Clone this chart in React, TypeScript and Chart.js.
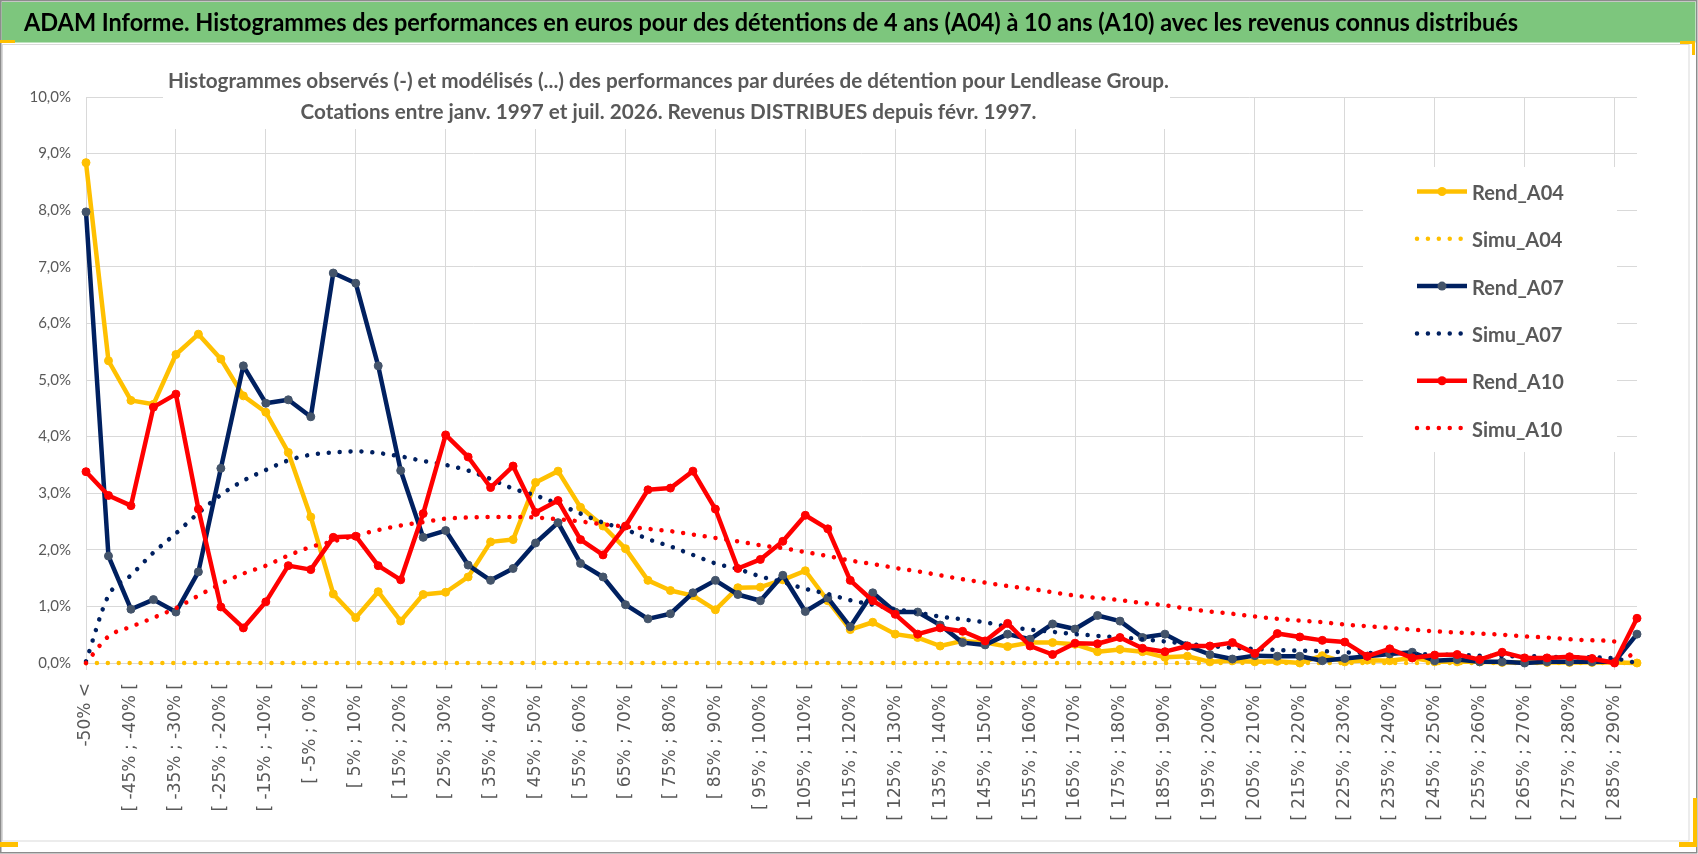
import React, { useEffect, useRef } from "react";
import { Chart, registerables } from "chart.js";

Chart.register(...registerables);

const W = 1698;
const H = 854;

const categories = [
  "-50% <",
  "[ -50% ; -45% [", "[ -45% ; -40% [", "[ -40% ; -35% [", "[ -35% ; -30% [", "[ -30% ; -25% [",
  "[ -25% ; -20% [", "[ -20% ; -15% [", "[ -15% ; -10% [", "[ -10% ; -5% [", "[ -5% ; 0% [",
  "[ 0% ; 5% [", "[ 5% ; 10% [", "[ 10% ; 15% [", "[ 15% ; 20% [", "[ 20% ; 25% [",
  "[ 25% ; 30% [", "[ 30% ; 35% [", "[ 35% ; 40% [", "[ 40% ; 45% [", "[ 45% ; 50% [",
  "[ 50% ; 55% [", "[ 55% ; 60% [", "[ 60% ; 65% [", "[ 65% ; 70% [", "[ 70% ; 75% [",
  "[ 75% ; 80% [", "[ 80% ; 85% [", "[ 85% ; 90% [", "[ 90% ; 95% [", "[ 95% ; 100% [",
  "[ 100% ; 105% [", "[ 105% ; 110% [", "[ 110% ; 115% [", "[ 115% ; 120% [", "[ 120% ; 125% [",
  "[ 125% ; 130% [", "[ 130% ; 135% [", "[ 135% ; 140% [", "[ 140% ; 145% [", "[ 145% ; 150% [",
  "[ 150% ; 155% [", "[ 155% ; 160% [", "[ 160% ; 165% [", "[ 165% ; 170% [", "[ 170% ; 175% [",
  "[ 175% ; 180% [", "[ 180% ; 185% [", "[ 185% ; 190% [", "[ 190% ; 195% [", "[ 195% ; 200% [",
  "[ 200% ; 205% [", "[ 205% ; 210% [", "[ 210% ; 215% [", "[ 215% ; 220% [", "[ 220% ; 225% [",
  "[ 225% ; 230% [", "[ 230% ; 235% [", "[ 235% ; 240% [", "[ 240% ; 245% [", "[ 245% ; 250% [",
  "[ 250% ; 255% [", "[ 255% ; 260% [", "[ 260% ; 265% [", "[ 265% ; 270% [", "[ 270% ; 275% [",
  "[ 275% ; 280% [", "[ 280% ; 285% [", "[ 285% ; 290% [", "[ 290% ; 295% [",
];

// values in %
const rendA04 = [
  8.84, 5.34, 4.64, 4.57, 5.45, 5.81, 5.37, 4.72, 4.43, 3.72,
  2.58, 1.22, 0.80, 1.26, 0.74, 1.21, 1.25, 1.52, 2.14, 2.18,
  3.19, 3.39, 2.75, 2.42, 2.02, 1.46, 1.28, 1.19, 0.94, 1.33,
  1.34, 1.47, 1.63, 1.10, 0.59, 0.72, 0.51, 0.45, 0.30, 0.39,
  0.36, 0.29, 0.36, 0.36, 0.33, 0.20, 0.24, 0.20, 0.10, 0.12,
  0.02, 0.04, 0.02, 0.03, 0.00, 0.13, 0.02, 0.05, 0.04, 0.09,
  0.02, 0.02, 0.02, 0.01, 0.01, 0.01, 0.01, 0.01, 0.01, 0.00,
];

const simuA04 = [
  0, 0, 0, 0, 0, 0, 0, 0, 0, 0,
  0, 0, 0, 0, 0, 0, 0, 0, 0, 0,
  0, 0, 0, 0, 0, 0, 0, 0, 0, 0,
  0, 0, 0, 0, 0, 0, 0, 0, 0, 0,
  0, 0, 0, 0, 0, 0, 0, 0, 0, 0,
  0, 0, 0, 0, 0, 0, 0, 0, 0, 0,
  0, 0, 0, 0, 0, 0, 0, 0, 0, 0,
];

const rendA07 = [
  7.97, 1.89, 0.95, 1.12, 0.90, 1.61, 3.44, 5.25, 4.59, 4.65,
  4.35, 6.89, 6.71, 5.25, 3.40, 2.22, 2.34, 1.73, 1.46, 1.67,
  2.12, 2.48, 1.76, 1.52, 1.03, 0.78, 0.87, 1.24, 1.46, 1.21,
  1.10, 1.55, 0.91, 1.15, 0.64, 1.24, 0.90, 0.90, 0.67, 0.36,
  0.32, 0.51, 0.42, 0.69, 0.60, 0.84, 0.74, 0.45, 0.51, 0.30,
  0.15, 0.07, 0.13, 0.12, 0.12, 0.04, 0.08, 0.12, 0.16, 0.19,
  0.04, 0.06, 0.02, 0.02, 0.00, 0.02, 0.02, 0.02, 0.02, 0.51,
];

const simuA07 = [
  0.03, 1.19, 1.55, 1.95, 2.29, 2.65, 2.97, 3.22, 3.41, 3.58,
  3.68, 3.72, 3.74, 3.71, 3.65, 3.57, 3.50, 3.40, 3.25, 3.08,
  2.96, 2.81, 2.64, 2.48, 2.36, 2.19, 2.06, 1.91, 1.76, 1.66,
  1.53, 1.43, 1.31, 1.22, 1.11, 1.03, 0.95, 0.89, 0.82, 0.77,
  0.72, 0.64, 0.59, 0.55, 0.51, 0.48, 0.45, 0.42, 0.38, 0.34,
  0.30, 0.27, 0.25, 0.23, 0.22, 0.21, 0.19, 0.18, 0.17, 0.16,
  0.15, 0.14, 0.13, 0.12, 0.12, 0.11, 0.10, 0.10, 0.08, 0.00,
];

const rendA10 = [
  3.38, 2.96, 2.78, 4.52, 4.75, 2.72, 0.99, 0.62, 1.08, 1.72,
  1.65, 2.22, 2.24, 1.72, 1.47, 2.64, 4.03, 3.64, 3.10, 3.48,
  2.66, 2.87, 2.18, 1.91, 2.42, 3.06, 3.09, 3.39, 2.72, 1.67,
  1.83, 2.15, 2.61, 2.37, 1.46, 1.10, 0.86, 0.51, 0.62, 0.56,
  0.39, 0.70, 0.30, 0.15, 0.35, 0.34, 0.45, 0.26, 0.20, 0.30,
  0.30, 0.36, 0.17, 0.52, 0.46, 0.40, 0.37, 0.12, 0.25, 0.09,
  0.14, 0.15, 0.06, 0.19, 0.09, 0.09, 0.11, 0.08, 0.00, 0.79,
];

const simuA10 = [
  0.00, 0.47, 0.64, 0.80, 0.97, 1.19, 1.40, 1.58, 1.72, 1.90,
  2.05, 2.15, 2.25, 2.35, 2.43, 2.49, 2.55, 2.57, 2.58, 2.58,
  2.57, 2.54, 2.50, 2.45, 2.41, 2.37, 2.33, 2.27, 2.21, 2.15,
  2.08, 2.03, 1.96, 1.89, 1.81, 1.75, 1.68, 1.62, 1.55, 1.48,
  1.42, 1.36, 1.31, 1.25, 1.19, 1.15, 1.11, 1.06, 1.02, 0.96,
  0.91, 0.87, 0.82, 0.78, 0.75, 0.72, 0.68, 0.65, 0.62, 0.59,
  0.56, 0.54, 0.52, 0.50, 0.47, 0.45, 0.42, 0.40, 0.38, 0.00,
];

const seriesNames = ["Rend_A04", "Simu_A04", "Rend_A07", "Simu_A07", "Rend_A10", "Simu_A10"];
const seriesValues = [rendA04, simuA04, rendA07, simuA07, rendA10, simuA10];
const seriesColors = ["#FFC000", "#FFC000", "#002060", "#002060", "#FF0000", "#FF0000"];
const markerColors = ["#FFC000", null, "#44546A", null, "#FF0000", null];

const yMin = 0;
const yMax = 10;
const yStep = 1;

const bannerText =
  "ADAM Informe. Histogrammes des performances en euros pour des détentions de 4 ans (A04) à 10 ans (A10) avec les revenus connus distribués";
const subtitleLines = [
  "Histogrammes observés (-) et modélisés (...) des performances par durées de détention pour Lendlease Group.",
  "Cotations entre janv. 1997 et juil. 2026. Revenus DISTRIBUES depuis févr. 1997.",
];

const GRAY_TEXT = "#595959";
const GRID = "#D9D9D9";
const DOT_DASH = [0.01, 10.9];

const framePlugin = {
  id: "framePlugin",
  beforeDraw(chart: any) {
    const ctx = chart.ctx as CanvasRenderingContext2D;
    ctx.save();
    ctx.fillStyle = "#FFFFFF";
    ctx.fillRect(0, 0, W, H);
    // banner
    ctx.fillStyle = "#7DC67D";
    ctx.fillRect(1.5, 2, 1694, 40.5);
    // inner chart border
    ctx.strokeStyle = GRID;
    ctx.lineWidth = 1;
    ctx.strokeRect(2.5, 44.5, 1686.5, 796.5);
    // outer frame
    ctx.strokeStyle = "#8C8C8C";
    ctx.lineWidth = 1.5;
    ctx.strokeRect(0.75, 0.75, 1696, 852);
    // selection marks
    ctx.fillStyle = "#FFC000";
    ctx.fillRect(0, 40, 15, 3);
    ctx.fillRect(1680, 41, 15, 3);
    ctx.fillRect(1692, 41, 3, 14);
    ctx.fillRect(0, 842, 18, 5);
    ctx.fillRect(1679, 842, 18, 5);
    ctx.fillRect(1693, 798, 4, 49);
    // banner text
    ctx.font = "bold 24px Lato";
    ctx.fillStyle = "#000000";
    ctx.textBaseline = "alphabetic";
    ctx.textAlign = "left";
    const bw = ctx.measureText(bannerText).width;
    ctx.translate(24, 31);
    ctx.scale(1494 / bw, 1);
    ctx.fillText(bannerText, 0, 0);
    ctx.restore();
  },
  afterDraw(chart: any) {
    const ctx = chart.ctx as CanvasRenderingContext2D;
    ctx.save();
    // chart title box
    ctx.fillStyle = "#FFFFFF";
    ctx.fillRect(163, 52, 1007, 77);
    ctx.font = "bold 20px Lato";
    ctx.fillStyle = GRAY_TEXT;
    ctx.textAlign = "center";
    ctx.textBaseline = "alphabetic";
    const tw = ctx.measureText(subtitleLines[0]).width;
    const sx = 1001 / tw;
    const cx = 668.5;
    const baselines = [88, 119];
    subtitleLines.forEach((line, i) => {
      ctx.save();
      ctx.translate(cx, baselines[i]);
      ctx.scale(sx, 1);
      ctx.fillText(line, 0, 0);
      ctx.restore();
    });

    // legend
    ctx.fillStyle = "#FFFFFF";
    ctx.fillRect(1363, 167, 254, 285);
    const x0 = 1417;
    const x1 = 1467;
    const rowH = 47.3;
    chart.data.datasets.forEach((ds: any, i: number) => {
      const base = 200 + i * rowH;
      const ly = base - 8.5;
      ctx.save();
      ctx.strokeStyle = ds.borderColor;
      ctx.lineWidth = ds.borderWidth;
      ctx.lineCap = ds.borderDash && ds.borderDash.length ? "round" : "butt";
      ctx.setLineDash(ds.borderDash || []);
      ctx.beginPath();
      ctx.moveTo(x0, ly);
      ctx.lineTo(x1, ly);
      ctx.stroke();
      ctx.setLineDash([]);
      if (ds.pointRadius > 0) {
        ctx.fillStyle = ds.pointBackgroundColor;
        ctx.beginPath();
        ctx.arc((x0 + x1) / 2, ly, ds.pointRadius + 0.5, 0, Math.PI * 2);
        ctx.fill();
      }
      ctx.restore();
      ctx.font = "bold 20px Lato";
      ctx.fillStyle = GRAY_TEXT;
      ctx.textAlign = "left";
      ctx.textBaseline = "alphabetic";
      ctx.fillText(ds.label, 1472, base);
    });
    ctx.restore();
  },
};

export default function App() {
  const ref = useRef<HTMLCanvasElement>(null);

  useEffect(() => {
    document.body.style.margin = "0";
    if (!ref.current) return;

    const datasets = seriesNames.map((name, i) => {
      const isSimu = name.startsWith("Simu");
      return {
        label: name,
        data: seriesValues[i],
        borderColor: seriesColors[i],
        backgroundColor: seriesColors[i],
        borderWidth: 4.5,
        borderDash: isSimu ? DOT_DASH : [],
        borderCapStyle: isSimu ? "round" : "butt",
        borderJoinStyle: "round",
        cubicInterpolationMode: isSimu ? "monotone" : "default",
        tension: 0,
        pointRadius: isSimu ? 0 : 4,
        pointHoverRadius: isSimu ? 0 : 4,
        pointBorderWidth: 1,
        pointBackgroundColor: markerColors[i] || seriesColors[i],
        pointBorderColor: markerColors[i] || seriesColors[i],
        fill: false,
        clip: false,
        order: seriesNames.length - i,
      };
    });

    const chart = new Chart(ref.current, {
      type: "line",
      data: { labels: categories, datasets: datasets as any },
      plugins: [framePlugin],
      options: {
        animation: false,
        responsive: false,
        events: [],
        layout: { padding: { left: 16, top: 97, right: 61, bottom: 31 } },
        plugins: {
          legend: { display: false },
          title: { display: false },
          tooltip: { enabled: false },
        },
        scales: {
          x: {
            type: "category",
            offset: false,
            afterFit: (scale: any) => {
              scale.height = 160;
            },
            grid: {
              color: (c: any) => (c.index % 4 === 0 ? GRID : "rgba(0,0,0,0)"),
              lineWidth: 1,
              drawTicks: true,
              tickLength: 7,
              offset: false,
            },
            border: { display: true, color: GRID, width: 1 },
            ticks: {
              autoSkip: false,
              minRotation: 90,
              maxRotation: 90,
              padding: 13,
              color: GRAY_TEXT,
              font: { family: "DejaVu Sans", size: 17 },
              callback: (_v: any, index: number) => (index % 2 === 0 ? categories[index] : ""),
            },
          },
          y: {
            min: yMin,
            max: yMax,
            afterFit: (scale: any) => {
              scale.width = 70;
            },
            grid: { color: GRID, lineWidth: 1, drawTicks: false },
            border: { display: false },
            ticks: {
              stepSize: yStep,
              padding: 15,
              color: GRAY_TEXT,
              font: { family: "Lato", size: 15 },
              callback: (v: any) => Number(v).toFixed(1).replace(".", ",") + "%",
            },
          },
        },
      } as any,
    });
    return () => chart.destroy();
  }, []);

  return (
    <div style={{ position: "relative", width: W, height: H }}>
      <canvas ref={ref} width={W} height={H} style={{ display: "block", width: W, height: H }} />
    </div>
  );
}
